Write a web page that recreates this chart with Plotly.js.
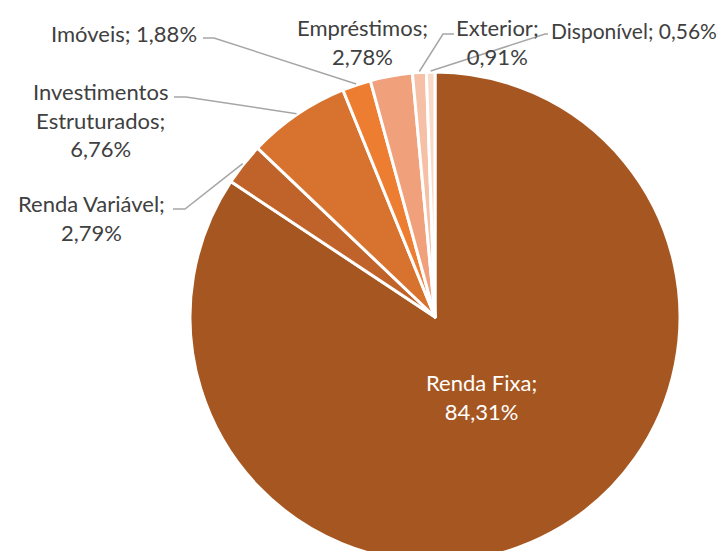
<!DOCTYPE html>
<html><head><meta charset="utf-8">
<script src="https://cdn.plot.ly/plotly-3.0.1.min.js"></script>
<style>html,body{margin:0;padding:0;overflow:hidden;background:#fff;width:724px;height:551px}#chart{width:724px;height:640px}</style>
</head><body><div id="chart"></div>
<script>
// ---- data ----
const labels = ['Renda Fixa','Renda Variável','Investimentos Estruturados','Imóveis','Empréstimos','Exterior','Disponível'];
const values = [84.31, 2.79, 6.76, 1.88, 2.78, 0.91, 0.56];
const labelLines = [['Renda Fixa;'],['Renda Variável;'],['Investimentos','Estruturados;'],['Imóveis;'],['Empréstimos;'],['Exterior;'],['Disponível;']];
const colors = ['#A65721','#C0632A','#D8722F','#ED7E31','#F0A07A','#F5C0A6','#F9D9C8'];

// ---- geometry (layout only) ----
const W = 724, H = 640, ML = 190, MR = 44, MT = 72, MB = 78;
const PW = W - ML - MR, PH = H - MT - MB;
const CX = ML + PW / 2, CY = MT + PH / 2, R = Math.min(PW, PH) / 2;
const px = x => (x - ML) / PW;
const py = y => (H - MB - y) / PH;
const fmt = v => v.toFixed(2).replace('.', ',') + '%';

const place = [
  {x: 481, y: 397, xa: 'center', same: false, color: '#FFFFFF', leader: null, size: 22},
  {x: 91, y: 218, xa: 'center', same: false, leader: [[173, 209], [185, 209]], size: 22},
  {x: 100, y: 120, xa: 'center', same: false, leader: [[174, 97], [186, 97]], size: 22},
  {x: 199, y: 34, xa: 'right', same: true, leader: [[203, 38], [214, 38]], size: 22},
  {x: 362, y: 42, xa: 'center', same: false, leader: null, size: 22},
  {x: 497, y: 42, xa: 'center', same: false, leader: [[454, 34], [443, 34]], size: 22},
  {x: 719, y: 30, xa: 'right', same: true, leader: [[548, 34], [545, 34]], size: 21}
];

const total = values.reduce((a, b) => a + b, 0);
let cum = 0;
const annotations = [], shapes = [];
values.forEach((v, i) => {
  const mid = (cum + v / 2) / total * 2 * Math.PI;
  cum += v;
  const p = place[i];
  const lines = labelLines[i].slice();
  let text;
  if (p.same) text = lines.join('<br>') + ' ' + fmt(v);
  else text = lines.concat([fmt(v)]).join('<br>');
  annotations.push({
    xref: 'paper', yref: 'paper', x: px(p.x), y: py(p.y), xanchor: p.xa, yanchor: 'middle',
    text: text, showarrow: false, align: 'center',
    font: {family: 'Lato, "Open Sans", sans-serif', size: p.size, color: p.color || '#404040'}
  });
  if (p.leader) {
    const ex = CX + (R + 1) * Math.sin(mid), ey = CY - (R + 1) * Math.cos(mid);
    const pts = p.leader.concat([[ex, ey]]);
    const path = pts.map((q, k) => (k ? 'L' : 'M') + px(q[0]) + ',' + py(q[1])).join(' ');
    shapes.push({type: 'path', xref: 'paper', yref: 'paper', path: path,
      line: {color: '#A6A6A6', width: 1.5}});
  }
});

Plotly.newPlot('chart', [{
  type: 'pie', labels: labels, values: values, sort: false, direction: 'clockwise', rotation: 0,
  marker: {colors: colors, line: {color: '#FFFFFF', width: 3}},
  textinfo: 'none', hoverinfo: 'none', showlegend: false
}], {
  width: W, height: H, margin: {l: ML, r: MR, t: MT, b: MB},
  paper_bgcolor: '#FFFFFF', plot_bgcolor: '#FFFFFF',
  annotations: annotations, shapes: shapes, showlegend: false
}, {staticPlot: true, displayModeBar: false});
</script></body></html>
